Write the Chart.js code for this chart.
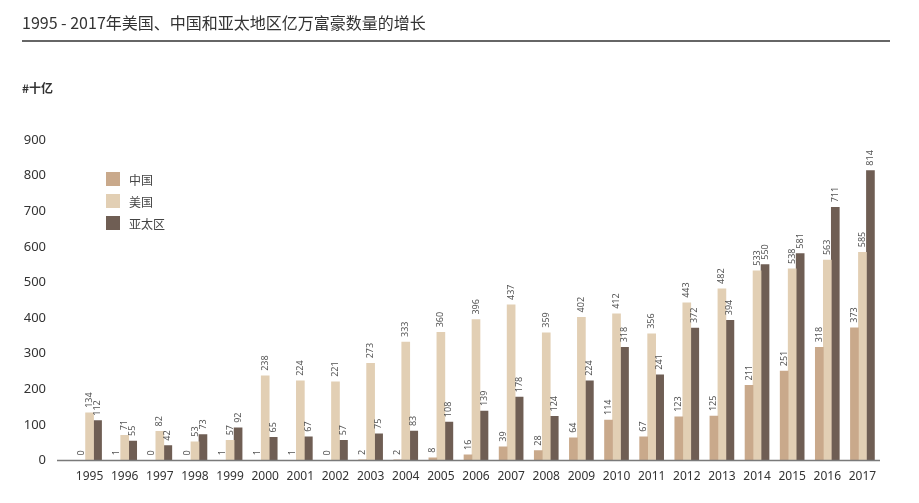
<!DOCTYPE html>
<html>
<head>
<meta charset="utf-8">
<script src="https://cdn.jsdelivr.net/npm/chart.js@4"></script>
<style>
  body { margin: 0; background: #fff; font-family: 'Noto Sans', 'Noto Sans CJK SC', sans-serif; color: #333; }
  #wrap { position: relative; width: 919px; height: 503px; overflow: hidden; }
  #title { position: absolute; left: 22px; top: 10px; font-size: 16px; font-family: 'Noto Sans CJK SC', sans-serif; color: #333; }
  #rule { position: absolute; left: 22px; top: 40px; width: 868px; height: 2px; background: #666; }
  #unit { position: absolute; left: 22px; top: 79px; font-size: 12px; font-weight: bold; font-family: 'Noto Sans CJK SC', sans-serif; color: #333; }
  #legend { position: absolute; left: 106px; top: 168px; font-size: 12px; font-family: 'Noto Sans CJK SC', sans-serif; color: #444; }
  .item { height: 22px; display: flex; align-items: center; }
  .box { width: 14px; height: 14px; margin-right: 9px; }
  canvas { position: absolute; left: 0; top: 0; }
</style>
</head>
<body>
<div id="wrap">
  <canvas id="chart" width="919" height="503"></canvas>
  <div id="title">1995 - 2017年美国、中国和亚太地区亿万富豪数量的增长</div>
  <div id="rule"></div>
  <div id="unit">#十亿</div>
  <div id="legend"></div>
</div>
<script>
// years and billionaire counts
const years = ['1995', '1996', '1997', '1998', '1999', '2000', '2001', '2002', '2003', '2004', '2005',
    '2006', '2007', '2008', '2009', '2010', '2011', '2012', '2013', '2014', '2015', '2016', '2017'];
const china = [0, 1, 0, 0, 1, 1, 1, 0, 2, 2, 8, 16, 39, 28, 64, 114, 67, 123, 125, 211, 251, 318, 373];
const usa = [134, 71, 82, 53, 57, 238, 224, 221, 273, 333, 360, 396, 437, 359, 402, 412, 356, 443, 482, 533, 538, 563, 585];
const apac = [112, 55, 42, 73, 92, 65, 67, 57, 75, 83, 108, 139, 178, 124, 224, 318, 241, 372, 394, 550, 581, 711, 814];
const yTicks = [0, 100, 200, 300, 400, 500, 600, 700, 800, 900];

const seriesNames = ['中国', '美国', '亚太区'];
const seriesColors = ['#c9a98b', '#e2cfb4', '#6f5e54'];

// legend inside the plot
const legendEl = document.getElementById('legend');
seriesNames.forEach((name, i) => {
    const row = document.createElement('div');
    row.className = 'item';
    row.innerHTML = '<span class="box" style="background:' + seriesColors[i] + '"></span>' + name;
    legendEl.appendChild(row);
});

// value labels, rotated, above each bar
const valueLabels = {
    id: 'valueLabels',
    afterDatasetsDraw(chart) {
        const ctx = chart.ctx;
        ctx.save();
        ctx.font = '9px "Noto Sans", sans-serif';
        ctx.fillStyle = '#555';
        ctx.textAlign = 'left';
        ctx.textBaseline = 'middle';
        chart.data.datasets.forEach((ds, i) => {
            chart.getDatasetMeta(i).data.forEach((bar, j) => {
                ctx.save();
                ctx.translate(bar.x, bar.y - 5);
                ctx.rotate(-Math.PI / 2);
                ctx.fillText(String(ds.data[j]), 0, 0);
                ctx.restore();
            });
        });
        ctx.restore();
    }
};

// baseline runs a bit left of the first group
const baseline = {
    id: 'baseline',
    afterDatasetsDraw(chart) {
        const ctx = chart.ctx;
        const y = chart.scales.y.getPixelForValue(0);
        ctx.save();
        ctx.strokeStyle = '#7a7a7a';
        ctx.lineWidth = 1.5;
        ctx.beginPath();
        ctx.moveTo(57, y);
        ctx.lineTo(chart.chartArea.right, y);
        ctx.stroke();
        ctx.restore();
    }
};

new Chart(document.getElementById('chart'), {
    type: 'bar',
    data: {
        labels: years,
        datasets: [china, usa, apac].map((d, i) => ({
            label: seriesNames[i],
            data: d,
            backgroundColor: seriesColors[i],
            barThickness: 8,
            categoryPercentage: 0.855,
            barPercentage: 0.8
        }))
    },
    options: {
        responsive: false,
        animation: false,
        layout: { padding: { top: 140, right: 39, bottom: 10, left: 22 } },
        plugins: { legend: { display: false }, tooltip: { enabled: false } },
        scales: {
            x: {
                grid: { display: false, drawTicks: false },
                border: { display: false },
                ticks: { color: '#333', font: { size: 12, family: '"Noto Sans", sans-serif' }, padding: 9, maxRotation: 0, autoSkip: false }
            },
            y: {
                min: 0,
                max: 900,
                afterBuildTicks: s => { s.ticks = yTicks.map(v => ({ value: v })); },
                afterFit: s => { s.width = 50; },
                grid: { display: false, drawTicks: false },
                border: { display: false },
                ticks: { color: '#333', font: { size: 13, family: '"Noto Sans", sans-serif' }, padding: 26 }
            }
        }
    },
    plugins: [valueLabels, baseline]
});
</script>
</body>
</html>
